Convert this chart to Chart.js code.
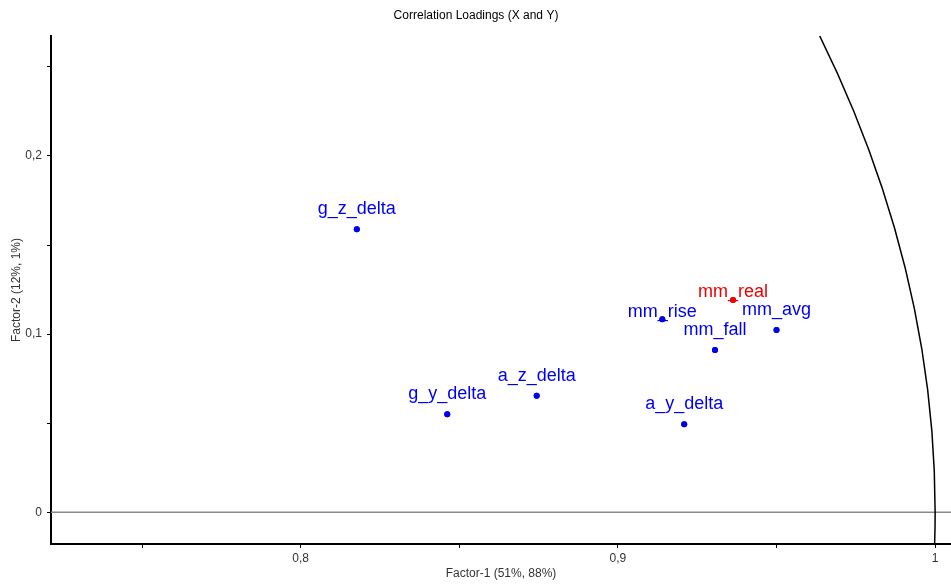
<!DOCTYPE html>
<html>
<head>
<meta charset="utf-8">
<script src="https://cdn.jsdelivr.net/npm/chart.js@4/dist/chart.umd.min.js"></script>
<style>
  html, body { margin: 0; padding: 0; background: #ffffff; }
  #wrap { width: 951px; height: 584px; position: relative; }
</style>
</head>
<body>
<div id="wrap"><canvas id="c" width="951" height="584"></canvas></div>
<script>
// ---- data ----
const variableNames = ['g_z_delta', 'g_y_delta', 'a_z_delta', 'a_y_delta', 'mm_rise', 'mm_fall', 'mm_real', 'mm_avg'];
const factor1Values = [0.8177, 0.8462, 0.8744, 0.9209, 0.9140, 0.9306, 0.9363, 0.9500];
const factor2Values = [0.1588, 0.0550, 0.0654, 0.0494, 0.1083, 0.0911, 0.1191, 0.1023];
const yVariableNames = ['mm_real'];
const xTickValues = [0.75, 0.8, 0.85, 0.9, 0.95, 1.0];
const xTickLabels = ['', '0,8', '', '0,9', '', '1'];
const yTickValues = [0, 0.05, 0.1, 0.15, 0.2, 0.25];
const yTickLabels = ['0', '', '0,1', '', '0,2', ''];

// ---- styling / layout (not data) ----
const FONT = "Arial, 'Liberation Sans', sans-serif";
const BLUE = '#0000f0';
const RED = '#f00000';
const labelLift = { mm_real: 8, mm_rise: 7 };

const pts = variableNames.map((n, i) => ({ x: factor1Values[i], y: factor2Values[i], name: n }));
const colors = variableNames.map(n => yVariableNames.includes(n) ? RED : BLUE);

const overlay = {
  id: 'overlay',
  beforeDatasetsDraw(chart) {
    const { ctx, chartArea: a, scales: { x, y } } = chart;
    ctx.save();
    ctx.beginPath();
    ctx.rect(a.left, a.top, a.right - a.left, a.bottom - a.top);
    ctx.clip();
    // zero line
    const y0 = y.getPixelForValue(0);
    ctx.strokeStyle = '#8a8a8a';
    ctx.lineWidth = 1.5;
    ctx.beginPath();
    ctx.moveTo(a.left, y0);
    ctx.lineTo(a.right, y0);
    ctx.stroke();
    // unit circle
    const cx = x.getPixelForValue(0), cy = y.getPixelForValue(0);
    const rx = Math.abs(x.getPixelForValue(1) - cx);
    const ry = Math.abs(y.getPixelForValue(1) - cy);
    ctx.strokeStyle = '#000000';
    ctx.lineWidth = 1.5;
    ctx.beginPath();
    ctx.ellipse(cx, cy, rx, ry, 0, 0, Math.PI * 2);
    ctx.stroke();
    ctx.restore();
  },
  afterDatasetsDraw(chart) {
    const { ctx, scales: { x, y } } = chart;
    ctx.save();
    ctx.font = '18px ' + FONT;
    ctx.textAlign = 'center';
    ctx.textBaseline = 'middle';
    pts.forEach((p, i) => {
      const px = x.getPixelForValue(p.x), py = y.getPixelForValue(p.y);
      ctx.fillStyle = colors[i];
      const lift = labelLift[p.name] !== undefined ? labelLift[p.name] : 20;
      ctx.fillText(p.name, px, py - lift);
    });
    // redraw points on top of labels
    pts.forEach((p, i) => {
      const px = x.getPixelForValue(p.x), py = y.getPixelForValue(p.y);
      ctx.fillStyle = colors[i];
      ctx.beginPath();
      ctx.arc(px, py, 3, 0, Math.PI * 2);
      ctx.fill();
    });
    // chart title
    ctx.font = '12px ' + FONT;
    ctx.fillStyle = '#000';
    ctx.textBaseline = 'middle';
    ctx.fillText('Correlation Loadings (X and Y)', 476, 16);
    ctx.restore();
  }
};

new Chart(document.getElementById('c'), {
  type: 'scatter',
  data: {
    datasets: [{
      data: pts,
      pointRadius: 3,
      pointHoverRadius: 3,
      pointBackgroundColor: colors,
      pointBorderWidth: 0,
      showLine: false
    }]
  },
  options: {
    responsive: false,
    animation: false,
    layout: { autoPadding: false, padding: { top: 36, right: 0, left: 0, bottom: 0 } },
    plugins: { legend: { display: false }, tooltip: { enabled: false }, title: { display: false } },
    scales: {
      x: {
        type: 'linear',
        min: 0.7213,
        max: 1.005,
        afterBuildTicks(s) { s.ticks = xTickValues.map(v => ({ value: v })); },
        afterFit(s) { s.height = 40; s.paddingLeft = 0; s.paddingRight = 0; },
        ticks: {
          autoSkip: false,
          maxRotation: 0,
          padding: 3,
          color: '#333',
          font: { family: FONT, size: 12 },
          callback(v) { const i = xTickValues.findIndex(t => Math.abs(t - v) < 1e-9); return i >= 0 ? xTickLabels[i] : ''; }
        },
        grid: { drawOnChartArea: false, drawTicks: true, tickLength: 4, tickColor: '#000', tickWidth: 1 },
        border: { display: true, color: '#000', width: 2 },
        title: { display: true, text: 'Factor-1 (51%, 88%)', color: '#333', font: { family: FONT, size: 12 }, padding: { top: 0, bottom: 3 } }
      },
      y: {
        type: 'linear',
        min: -0.0178,
        max: 0.2673,
        afterBuildTicks(s) { s.ticks = yTickValues.map(v => ({ value: v })); },
        afterFit(s) { s.width = 51; s.paddingTop = 0; s.paddingBottom = 0; },
        ticks: {
          autoSkip: false,
          padding: 5,
          color: '#333',
          font: { family: FONT, size: 12 },
          callback(v) { const i = yTickValues.findIndex(t => Math.abs(t - v) < 1e-9); return i >= 0 ? yTickLabels[i] : ''; }
        },
        grid: { drawOnChartArea: false, drawTicks: true, tickLength: 4, tickColor: '#000', tickWidth: 1 },
        border: { display: true, color: '#000', width: 2 },
        title: { display: true, text: 'Factor-2 (12%, 1%)', color: '#333', font: { family: FONT, size: 12 }, padding: { top: 9, bottom: 0 } }
      }
    }
  },
  plugins: [overlay]
});
</script>
</body>
</html>
